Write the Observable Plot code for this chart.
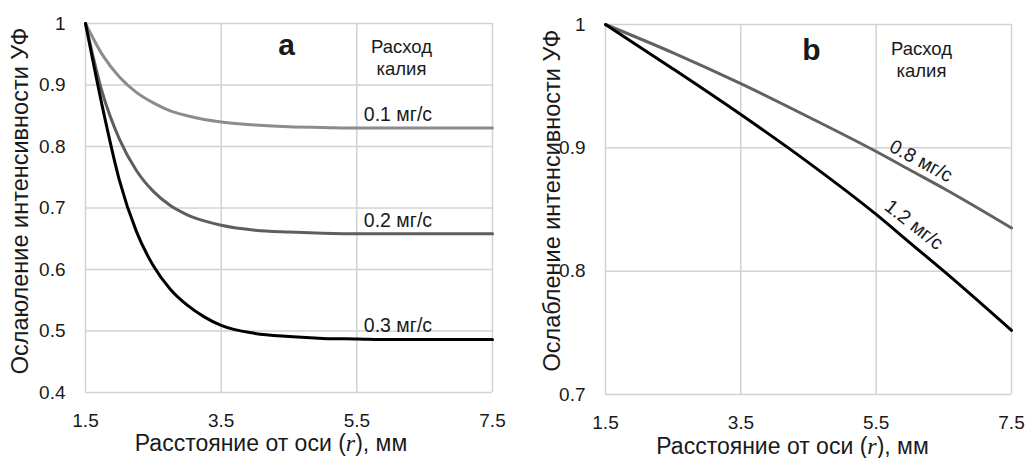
<!DOCTYPE html>
<html><head><meta charset="utf-8">
<script src="https://cdn.jsdelivr.net/npm/d3@7"></script>
<script src="https://cdn.jsdelivr.net/npm/@observablehq/plot@0.6"></script>
<style>
html,body{margin:0;padding:0;background:#fff;}
#wrap{display:flex;width:1025px;height:458px;overflow:hidden;}
#wrap svg{display:block;flex:none;}
</style></head><body><div id="wrap"></div>
<script>
// ---- data ----
const xTicks = [1.5, 3.5, 5.5, 7.5];
const yTicksA = [0.4, 0.5, 0.6, 0.7, 0.8, 0.9, 1];
const yTicksB = [0.7, 0.8, 0.9, 1];

const rA = [1.5, 1.75, 2, 2.25, 2.5, 2.75, 3, 3.25, 3.5, 4, 4.5, 5, 5.5, 6, 6.5, 7, 7.5];
const seriesA = ["0.1 мг/с", "0.2 мг/с", "0.3 мг/с"];
const a01 = [1.0, 0.949, 0.913, 0.888, 0.871, 0.858, 0.850, 0.844, 0.840, 0.835, 0.832, 0.831, 0.830, 0.830, 0.830, 0.830, 0.830];
const a02 = [1.0, 0.887, 0.812, 0.761, 0.727, 0.704, 0.689, 0.679, 0.672, 0.664, 0.661, 0.659, 0.658, 0.658, 0.658, 0.658, 0.658];
const a03 = [1.0, 0.864, 0.745, 0.662, 0.606, 0.568, 0.542, 0.523, 0.509, 0.496, 0.491, 0.488, 0.487, 0.486, 0.486, 0.486, 0.486];
const colorsA = ["#8c8c8c", "#5e5e5e", "#000000"];

const rB = [1.5, 2.5, 3.5, 4.5, 5.5, 6, 6.5, 7.5];
const seriesB = ["0.8 мг/с", "1.2 мг/с"];
const b08 = [1.0, 0.977, 0.952, 0.925, 0.897, 0.882, 0.867, 0.835];
const b12 = [1.0, 0.964, 0.927, 0.888, 0.846, 0.823, 0.800, 0.752];
const colorsB = ["#626262", "#000000"];

const yTitleA = "Ослаюление интенсивности УФ";
const yTitleB = "Ослабление интенсивности УФ";
const xTitle = "Расстояние от оси (r), мм";
const legendTitle = "Расход\nкалия";

// ---- tidy tables ----
const dataA = [a01, a02, a03].flatMap((vals, i) => vals.map((v, j) => ({r: rA[j], v, s: seriesA[i]})));
const dataB = [b08, b12].flatMap((vals, i) => vals.map((v, j) => ({r: rB[j], v, s: seriesB[i]})));

const FONT = "'Liberation Sans', Arial, sans-serif";
const INK = "#1a1a1a";
const fmt = d => String(+(+d).toFixed(1));
const gridStyle = {stroke: "#d2d2d2", strokeOpacity: 1, strokeWidth: 1.5};
const centered = {textAnchor: "middle", lineAnchor: "middle"};

// label anchors: series value at chosen r
const labA = seriesA.map((s, i) => ({s, r: 5.5, v: [a01, a02, a03][i][rA.indexOf(5.5)]}));
const labB0 = {s: seriesB[0], r: 6, v: b08[rB.indexOf(6)]};
const labB1 = {s: seriesB[1], r: 6, v: b12[rB.indexOf(6)]};

const plotA = Plot.plot({
  width: 512, height: 458,
  marginLeft: 85, marginRight: 20, marginTop: 23, marginBottom: 66,
  x: {domain: [1.5, 7.5]},
  y: {domain: [0.4, 1]},
  color: {domain: seriesA, range: colorsA},
  style: {fontFamily: FONT, fontSize: "19px", color: INK, background: "white"},
  marks: [
    Plot.gridX(xTicks, gridStyle),
    Plot.gridY(yTicksA, gridStyle),
    Plot.axisX(xTicks, {tickSize: 0, tickPadding: 21, tickFormat: fmt, label: null, fontSize: 19}),
    Plot.axisY(yTicksA, {tickSize: 0, tickPadding: 20, tickFormat: fmt, label: null, fontSize: 19}),
    Plot.line(dataA, {x: "r", y: "v", z: "s", stroke: "s", strokeWidth: 3, curve: "monotone-x"}),
    Plot.text(labA, {x: "r", y: "v", text: "s", textAnchor: "start", lineAnchor: "middle", dx: 7, dy: -13, fontSize: 19.5, fill: INK}),
    Plot.text(["a"], {frameAnchor: "top-left", ...centered, dx: 201, dy: 22, text: d => d, fontSize: 30, fontWeight: "bold", fill: INK}),
    Plot.text([legendTitle], {frameAnchor: "top-left", ...centered, dx: 316, dy: 33, text: d => d, fontSize: 18.5, lineHeight: 1.2, fill: INK}),
    Plot.text([yTitleA], {frameAnchor: "left", ...centered, dx: -65, dy: -7, rotate: -90, text: d => d, fontSize: 23.5, fill: INK}),
    Plot.text([xTitle], {frameAnchor: "bottom", ...centered, dx: -18, dy: 51, text: d => d, fontSize: 23, fill: INK})
  ]
});

const plotB = Plot.plot({
  width: 513, height: 458,
  marginLeft: 93, marginRight: 14, marginTop: 24, marginBottom: 64,
  x: {domain: [1.5, 7.5]},
  y: {domain: [0.7, 1]},
  color: {domain: seriesB, range: colorsB},
  style: {fontFamily: FONT, fontSize: "19px", color: INK, background: "white"},
  marks: [
    Plot.gridX(xTicks, gridStyle),
    Plot.gridY(yTicksB, gridStyle),
    Plot.axisX(xTicks, {tickSize: 0, tickPadding: 21, tickFormat: fmt, label: null, fontSize: 19}),
    Plot.axisY(yTicksB, {tickSize: 0, tickPadding: 20, tickFormat: fmt, label: null, fontSize: 19}),
    Plot.line(dataB, {x: "r", y: "v", z: "s", stroke: "s", strokeWidth: 3, curve: "monotone-x"}),
    Plot.text([labB0], {x: "r", y: "v", text: "s", ...centered, dx: 11, dy: -9, rotate: 28, fontSize: 19.5, fill: INK}),
    Plot.text([labB1], {x: "r", y: "v", text: "s", ...centered, dx: 4, dy: -18, rotate: 38, fontSize: 19.5, fill: INK}),
    Plot.text(["b"], {frameAnchor: "top-left", ...centered, dx: 206, dy: 26, text: d => d, fontSize: 30, fontWeight: "bold", fill: INK}),
    Plot.text([legendTitle], {frameAnchor: "top-left", ...centered, dx: 316, dy: 34, text: d => d, fontSize: 18.5, lineHeight: 1.2, fill: INK}),
    Plot.text([yTitleB], {frameAnchor: "left", ...centered, dx: -53, dy: -9, rotate: -90, text: d => d, fontSize: 23.5, fill: INK}),
    Plot.text([xTitle], {frameAnchor: "bottom", ...centered, dx: -16, dy: 52, text: d => d, fontSize: 23, fill: INK})
  ]
});

const wrap = document.getElementById("wrap");
wrap.append(plotA, plotB);

// italic math r in x-axis title
for (const svg of [plotA, plotB]) {
  d3.select(svg).selectAll("text").each(function() {
    if (this.textContent === xTitle) {
      const t = d3.select(this);
      t.text(null);
      t.append("tspan").text("Расстояние от оси (");
      t.append("tspan").attr("font-style", "italic").attr("font-family", "'Liberation Serif', 'DejaVu Serif', serif").attr("font-size", 24).text("r");
      t.append("tspan").text("), мм");
    }
  });
}
</script>
</body></html>
